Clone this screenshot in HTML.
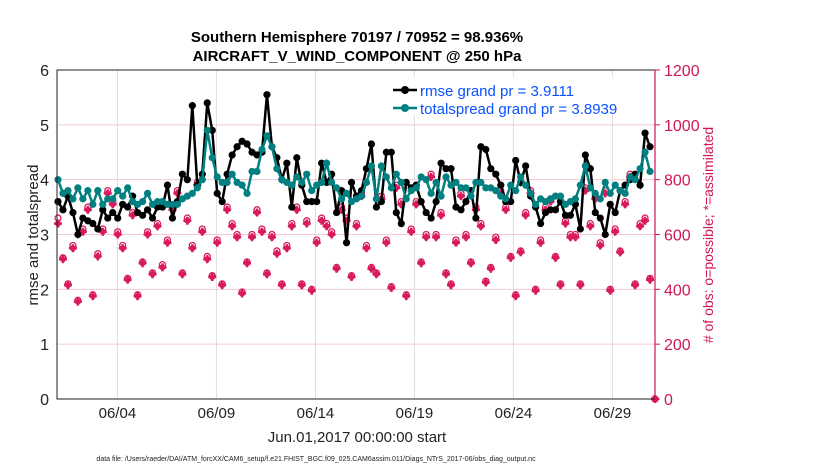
<!DOCTYPE html>
<html><head><meta charset="utf-8"><style>
body{margin:0;background:#fff}
svg text{font-family:"Liberation Sans",Arial,sans-serif}
</style></head><body>
<svg id="chart" width="830" height="470" xmlns="http://www.w3.org/2000/svg">
<rect width="830" height="470" fill="#fff"/>
<g id="grid"></g>
<g id="obs"></g>
<g id="lines"></g>
<g id="axes"></g>
<text x="357" y="42" text-anchor="middle" font-size="15" font-weight="bold">Southern Hemisphere 70197 / 70952 = 98.936%</text>
<text x="357" y="61" text-anchor="middle" font-size="15" font-weight="bold">AIRCRAFT_V_WIND_COMPONENT @ 250 hPa</text>
<text transform="translate(38,235) rotate(-90)" text-anchor="middle" font-size="15" fill="#222">rmse and totalspread</text>
<text transform="translate(713,235) rotate(-90)" text-anchor="middle" font-size="14" fill="#d01657"># of obs: o=possible; *=assimilated</text>
<text x="357" y="442" text-anchor="middle" font-size="15" fill="#222">Jun.01,2017 00:00:00 start</text>
<text x="316" y="461" text-anchor="middle" font-size="7" fill="#222">data file: /Users/raeder/DAI/ATM_forcXX/CAM6_setup/f.e21.FHIST_BGC.f09_025.CAM6assim.011/Diags_NTrS_2017-06/obs_diag_output.nc</text>
<g>
<rect x="385" y="77" width="262" height="38" fill="#fff"/>
<line x1="393" y1="90" x2="417" y2="90" stroke="#000" stroke-width="2.5"/><circle cx="405" cy="90" r="4" fill="#000"/>
<text x="420" y="96" font-size="15" fill="#0a52ff">rmse grand pr = 3.9111</text>
<line x1="393" y1="108" x2="417" y2="108" stroke="#008080" stroke-width="2.5"/><circle cx="405" cy="108" r="4" fill="#008080"/>
<text x="420" y="114" font-size="15" fill="#0a52ff">totalspread grand pr = 3.8939</text>
</g>
</svg>
<script>
const rmse=[3.6,3.45,3.7,3.4, 3.0,3.3,3.25,3.2, 3.1,3.45,3.3,3.4, 3.3,3.55,3.5,3.7, 3.4,3.35,3.45,3.3, 3.5,3.5,3.9,3.3,
3.6,4.1,4.0,5.35, 3.9,4.1,5.4,4.9, 3.75,3.6,4.1,4.45, 4.6,4.7,4.65,4.5, 4.45,4.5,5.55,4.6, 4.4,4.0,4.3,3.5,
4.4,3.9,3.6,3.6, 3.6,4.3,3.95,4.1, 3.4,3.8,2.85,3.95, 3.7,3.8,4.2,4.65, 3.5,3.6,4.5,4.5, 3.4,3.2,3.95,3.85,
3.9,3.6,3.4,3.3, 3.6,4.3,4.2,4.2, 3.5,3.45,3.6,3.8, 3.3,4.6,4.55,4.2, 4.1,3.9,3.6,3.6, 4.35,3.95,4.25,3.7,
3.5,3.2,3.4,3.45, 3.45,3.6,3.35,3.35,
3.55,3.1,4.45,4.2, 3.4,3.3,3.0,3.55, 3.4,3.8,3.9,4.0, 4.1,3.9,4.85,4.6];
const spread=[4.0,3.75,3.8,3.65, 3.85,3.65,3.8,3.55, 3.8,3.55,3.65,3.65, 3.8,3.7,3.85,3.6, 3.55,3.6,3.75,3.55, 3.6,3.6,3.55,3.55,
3.55,3.65,3.7,3.75, 3.85,4.0,4.9,4.4, 4.05,3.95,3.95,4.1, 3.95,3.9,3.75,4.15, 4.15,4.55,4.8,4.6, 4.2,4.0,3.95,3.9,
4.05,3.95,4.1,3.8, 3.9,3.95,4.3,3.95, 3.85,3.65,3.75,3.6, 3.65,3.7,3.95,4.25, 3.65,4.25,4.05,3.85, 4.1,3.95,3.65,3.8,
3.85,4.05,4.0,3.75, 3.95,3.7,4.05,3.9, 3.95,3.85,3.85,3.7, 3.95,3.95,3.85,3.85, 3.8,3.7,3.65,3.9, 3.8,4.05,3.9,3.75,
3.55,3.65,3.6,3.65, 3.7,3.7,3.55,3.6,
3.65,3.9,4.25,3.85, 3.75,3.65,3.95,3.75, 3.9,3.8,3.75,4.05, 4.0,4.2,4.5,4.15];
const obsPossible=[660,515,420,560, 360,620,700,380, 530,620,760,720, 610,560,440,680, 380,500,610,460,
640,490,580,700, 760,460,660,560, 790,620,520,450, 580,420,700,640, 600,390,500,600, 690,620,460,600,
540,420,560,640, 700,420,650,400, 580,660,640,610, 480,700,660,450, 640,750,560,480, 460,740,580,410,
780,720,380,620, 720,500,600,820, 600,680,460,420, 580,750,600,500, 700,640,430,480, 590,760,700,520,
380,540,680,760, 400,580,700,730, 520,420,650,600,
600,420,770,640, 740,570,760,400, 620,540,720,820, 420,640,660,440, 0];
const obsAssim=[640,510,415,550, 355,610,690,375, 520,610,750,710, 600,550,435,670, 375,495,600,455,
630,480,570,690, 750,455,650,550, 780,610,510,445, 570,415,690,630, 590,385,495,590, 680,610,455,590,
530,415,550,630, 690,415,640,395, 570,650,630,600, 475,690,650,445, 630,740,550,475, 455,730,570,405,
770,710,375,610, 710,495,590,810, 590,670,455,415, 570,740,590,495, 690,630,425,475, 580,750,690,515,
375,535,670,750, 395,570,690,720, 515,415,640,590,
590,415,760,630, 730,560,750,395, 610,535,710,810, 415,630,650,435, 0];
const dateTicks=[4,9,14,19,24,29];
const dateLabels=["06/04","06/09","06/14","06/19","06/24","06/29"];
const leftTicks=[0,1,2,3,4,5,6];
const rightTicks=[0,200,400,600,800,1000,1200];

const X0=57,X1=655,Y0=399,Y1=70,NS="http://www.w3.org/2000/svg";
const xIdx=i=>58+i*4.975;
const xDay=d=>58+(d-1)*19.8;
const yL=v=>Y0-(v/6)*(Y0-Y1);
const yR=v=>Y0-(v/1200)*(Y0-Y1);
function mk(tag,attrs,parent){const e=document.createElementNS(NS,tag);for(const k in attrs)e.setAttribute(k,attrs[k]);parent.appendChild(e);return e;}
const grid=document.getElementById('grid'),axes=document.getElementById('axes'),lines=document.getElementById('lines'),obs=document.getElementById('obs');
leftTicks.forEach(v=>{if(v>0&&v<6){const l=mk('line',{x1:X0,x2:X1,y1:yL(v),y2:yL(v),stroke:'#f4c6d6','stroke-width':1},grid);

}
const t=mk('text',{x:X0-8,y:yL(v)+6,'text-anchor':'end','font-size':16,fill:'#222'},axes);t.textContent=v;

});
rightTicks.forEach(v=>{mk('line',{x1:X1,x2:X1+5,y1:yR(v),y2:yR(v),stroke:'#d01657'},axes);
const t=mk('text',{x:X1+9,y:yR(v)+6,'font-size':16,fill:'#d01657'},axes);t.textContent=v;

});
dateTicks.forEach((d,i)=>{const x=xDay(d);const l=mk('line',{x1:x,x2:x,y1:Y1,y2:Y0,stroke:'#dcdcdc'},grid);


const t=mk('text',{x:x,y:418,'text-anchor':'middle','font-size':15,fill:'#222'},axes);t.textContent=dateLabels[i];

});
mk('path',{d:`M${X1},${Y1}H${X0}V${Y0}H${X1}`,fill:'none',stroke:'#222','stroke-width':1},axes);
mk('line',{x1:X1,x2:X1,y1:Y1,y2:Y0,stroke:'#d01657','stroke-width':1.2},axes);
function marker(x,y,g){mk('line',{x1:x-4,x2:x+4,y1:y,y2:y,stroke:'#d81b5c','stroke-width':2.5},g);
mk('line',{x1:x,x2:x,y1:y-4,y2:y+4,stroke:'#d81b5c','stroke-width':2.5},g);
mk('circle',{cx:x,cy:y,r:3,fill:'#d81b5c'},g);}
obsPossible.forEach((v,i)=>{const g=mk('g',{},obs);


mk('circle',{cx:xIdx(i),cy:yR(v),r:3,fill:'none',stroke:'#d81b5c','stroke-width':1.3},g);
marker(xIdx(i),yR(obsAssim[i]),g);});
function series(arr,color,name){const pts=arr.map((v,i)=>xIdx(i)+','+yL(v)).join(' ');
const p=mk('polyline',{points:pts,fill:'none',stroke:color,'stroke-width':2.5},lines);


arr.forEach((v,i)=>{const c=mk('circle',{cx:xIdx(i),cy:yL(v),r:3.6,fill:color},lines);

});}
series(rmse,'#000','rmse');
series(spread,'#008080','totalspread');
</script>
</body></html>
